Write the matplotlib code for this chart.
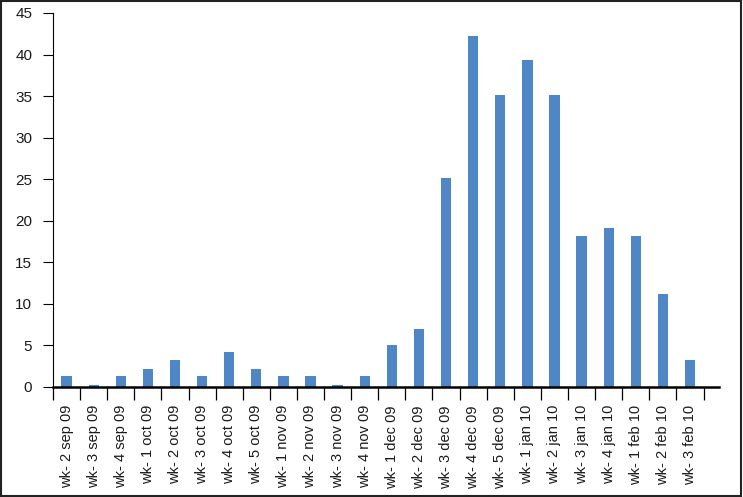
import matplotlib
matplotlib.use("Agg")
import matplotlib.pyplot as plt
from matplotlib.patches import Rectangle
import numpy as np

categories = ["wk- 2 sep 09", "wk- 3 sep 09", "wk- 4 sep 09", "wk- 1 oct 09", "wk- 2 oct 09",
              "wk- 3 oct 09", "wk- 4 oct 09", "wk- 5 oct 09", "wk- 1 nov 09", "wk- 2 nov 09",
              "wk- 3 nov 09", "wk- 4 nov 09", "wk- 1 dec 09", "wk- 2 dec 09", "wk- 3 dec 09",
              "wk- 4 dec 09", "wk- 5 dec 09", "wk- 1 jan 10", "wk- 2 jan 10", "wk- 3 jan 10",
              "wk- 4 jan 10", "wk- 1 feb 10", "wk- 2 feb 10", "wk- 3 feb 10"]
values = [1.3, 0.3, 1.3, 2.2, 3.2, 1.3, 4.2, 2.2, 1.3, 1.3, 0.3, 1.3,
          5.1, 7.0, 25.1, 42.2, 35.1, 39.3, 35.1, 18.2, 19.1, 18.2, 11.2, 3.2]
yticks = [0, 5, 10, 15, 20, 25, 30, 35, 40, 45]

plt.rcParams['font.family'] = ['Liberation Sans', 'DejaVu Sans']

W, H = 743, 497
fig = plt.figure(figsize=(W / 100, H / 100), dpi=100)
ax = fig.add_axes([53 / W, (H - 387) / H, (719 - 53) / W, (387 - 13) / H])

x = np.arange(len(categories))
ax.bar(x, values, width=0.38, color='#4F86C6', zorder=2)

ax.set_xlim(-0.5, 24.07)
ax.set_ylim(0, 45)
ax.set_yticks(yticks)
ax.set_yticklabels([str(v) for v in yticks], fontsize=11, color='#1a1a1a')
ax.tick_params(axis='y', length=7, width=0.8, pad=8, direction='out')

ax.set_xticks(x)
ax.set_xticklabels(categories, rotation=90, fontsize=10.5, color='#1a1a1a', va='top')
ax.tick_params(axis='x', which='major', length=0, pad=13)
ax.set_xticks(np.arange(-0.5, len(categories) + 0.5, 1), minor=True)
ax.tick_params(axis='x', which='minor', length=9, width=0.9, direction='out')

for s in ['top', 'right']:
    ax.spines[s].set_visible(False)
ax.spines['left'].set_linewidth(0.8)
ax.spines['bottom'].set_linewidth(1.8)

fig.patches.append(Rectangle((0.002, 0.002), 0.995, 0.995, transform=fig.transFigure,
                             fill=False, edgecolor='#222222', linewidth=1.5))

fig.savefig('out.png', dpi=100)
